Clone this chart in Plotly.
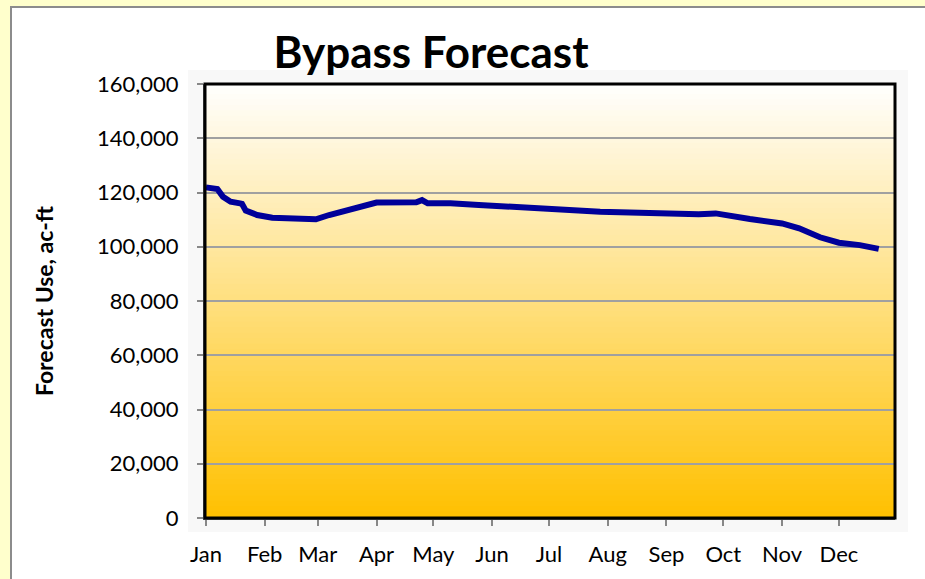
import plotly.graph_objects as go

# forecast use, ac-ft
dates = ["2013-01-01", "2013-01-07", "2013-01-10", "2013-01-14", "2013-01-19",
         "2013-01-20", "2013-01-22", "2013-01-28", "2013-02-05", "2013-02-14",
         "2013-02-28", "2013-03-07", "2013-03-21", "2013-03-26",
         "2013-04-01", "2013-04-22", "2013-04-25", "2013-04-28", "2013-05-10",
         "2013-05-25", "2013-06-08", "2013-06-26", "2013-07-28", "2013-09-18",
         "2013-09-27", "2013-10-15", "2013-11-01", "2013-11-10", "2013-11-21",
         "2013-12-01", "2013-12-12", "2013-12-22"]
values = [121900, 121300, 118400, 116600, 116000,
          115800, 113300, 111700, 110700, 110500,
          110100, 111700, 114200, 115200,
          116300, 116400, 117200, 116000, 116000,
          115400, 114800, 114500, 112900, 112000,
          112300, 110200, 108600, 106800, 103500,
          101500, 100600, 99200]

month_ticks = ["2013-%02d-01" % m for m in range(1, 13)]
month_labels = ["Jan", "Feb", "Mar", "Apr", "May", "Jun",
                "Jul", "Aug", "Sep", "Oct", "Nov", "Dec"]
y_ticks = list(range(0, 160001, 20000))

W, H = 925, 579
L, R, T, B = 205, 30, 84, 61
pw, ph = W - L - R, H - T - B

def px_x(x):
    return (x - L) / pw

def px_y(y):
    return (H - B - y) / ph

fig = go.Figure()

fig.add_trace(go.Scatter(
    x=dates, y=values, mode="lines",
    line=dict(color="#000099", width=6),
    showlegend=False, hoverinfo="x+y"
))

shapes = []
# white chart panel with grey edge on the yellow page
shapes.append(dict(type="rect", xref="paper", yref="paper", layer="below",
                   x0=px_x(11), x1=px_x(W + 20), y0=px_y(H + 20), y1=px_y(7),
                   fillcolor="white", line=dict(color="#8c8c8c", width=2)))
# faint shadow round the plot box
shapes.append(dict(type="rect", xref="paper", yref="paper", layer="below",
                   x0=px_x(188), x1=px_x(908), y0=px_y(532), y1=px_y(70),
                   fillcolor="#f8f8f8", line=dict(width=0)))
# vertical gradient white -> gold
n = 80
for i in range(n):
    t = (i + 0.5) / n
    g = int(round(255 - 63 * t))
    b = int(round(255 - 255 * t))
    shapes.append(dict(type="rect", xref="paper", yref="paper", layer="below",
                       x0=0, x1=1, y0=1 - (i + 1) / n, y1=1 - i / n + 0.002,
                       fillcolor="rgb(255,%d,%d)" % (g, b), line=dict(width=0)))
# black frame
shapes.append(dict(type="rect", xref="paper", yref="paper", layer="above",
                   x0=0, x1=1, y0=0, y1=1,
                   line=dict(color="black", width=3)))

fig.update_layout(
    width=W, height=H,
    margin=dict(l=L, r=R, t=T, b=B),
    paper_bgcolor="#FFFFCC",
    plot_bgcolor="rgba(0,0,0,0)",
    shapes=shapes,
    title=dict(text="<b>Bypass Forecast</b>", xref="container", x=431 / W,
               xanchor="center", yref="container", y=1 - 53 / H,
               yanchor="middle",
               font=dict(family="Lato", size=44, color="black")),
    font=dict(family="Lato", color="black"),
    xaxis=dict(
        type="date", range=["2012-12-31 12:00", "2013-12-30 14:00"],
        tickvals=month_ticks, ticktext=month_labels,
        ticks="outside", ticklen=6, tickcolor="#888888", tickwidth=2,
        showgrid=False, showline=True, linecolor="#555555", linewidth=2,
        tickfont=dict(size=22), ticklabelstandoff=10, zeroline=False
    ),
    yaxis=dict(
        range=[0, 160000], tickvals=y_ticks, tickformat=",",
        ticks="outside", ticklen=6, tickcolor="#888888", tickwidth=2,
        showgrid=True, gridcolor="#a0a0a0", gridwidth=2,
        showline=True, linecolor="#555555", linewidth=2,
        tickfont=dict(size=22), ticklabelstandoff=14, zeroline=False,
        title=dict(text="<b>Forecast Use, ac-ft</b>", font=dict(size=23),
                   standoff=37)
    ),
)

# page margin off so the figure sits at the window's corner
fig.write_html("out.html", config={"displayModeBar": False},
               post_script="document.body.style.margin='0';")
